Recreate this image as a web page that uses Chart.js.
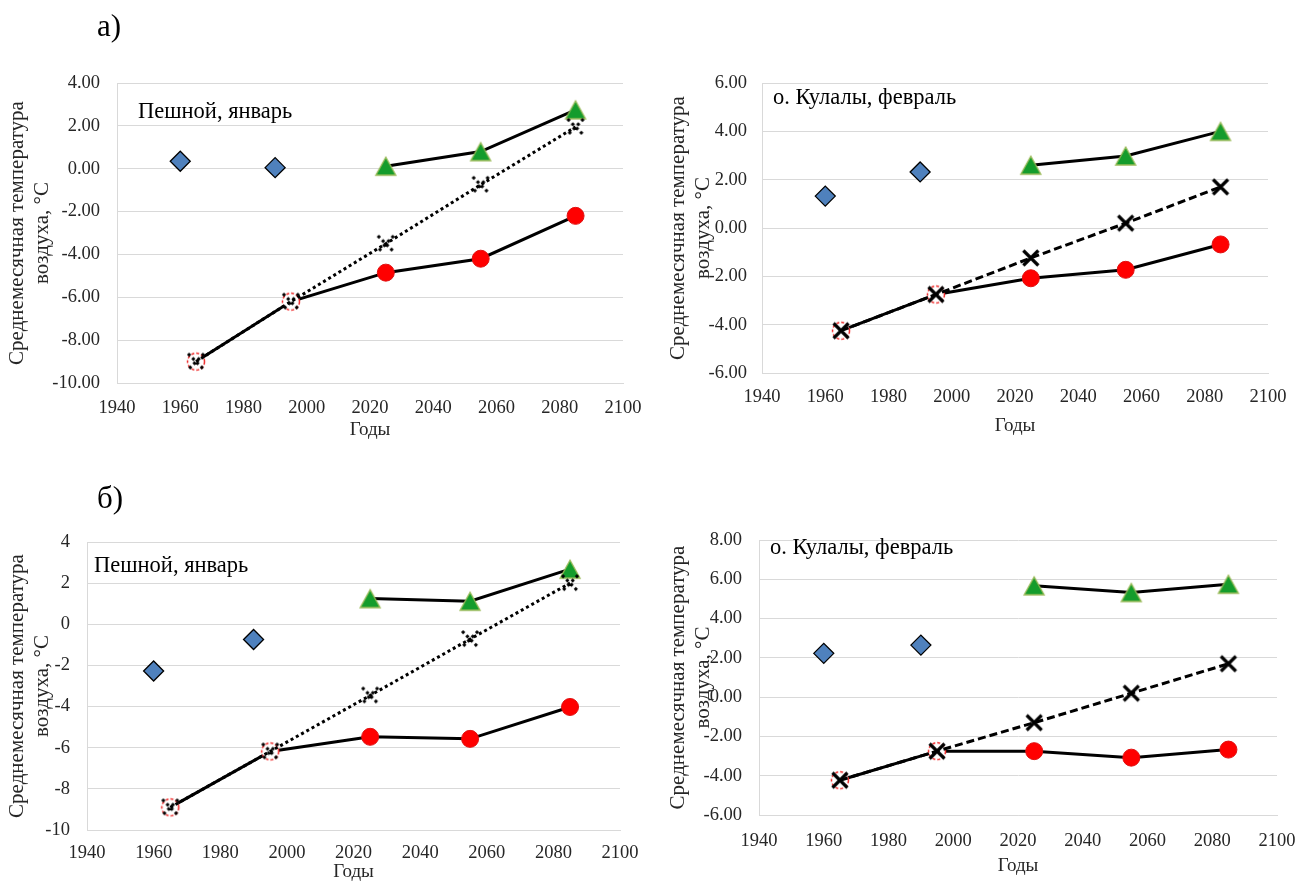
<!DOCTYPE html>
<html lang="ru">
<head>
<meta charset="utf-8">
<title>Среднемесячная температура воздуха</title>
<script src="https://cdn.jsdelivr.net/npm/chart.js@4"></script>
<style>
body{margin:0;background:#fff;font-family:"Liberation Serif","Times New Roman",serif;}
#page{position:relative;width:1315px;height:883px;overflow:hidden;background:#fff;}
#page canvas{position:absolute;left:0;top:0;}
.lbl{position:absolute;color:#000;white-space:nowrap;line-height:1;}
.part{font-size:31px;}
.place{font-size:22.5px;}
</style>
</head>
<body>
<div id="page">
  <canvas id="c1" width="1315" height="883"></canvas>
  <canvas id="c2" width="1315" height="883"></canvas>
  <canvas id="c3" width="1315" height="883"></canvas>
  <canvas id="c4" width="1315" height="883"></canvas>
  <div class="lbl part" style="left:97px;top:10px">а)</div>
  <div class="lbl part" style="left:97px;top:482px">б)</div>
  <div class="lbl place" style="left:138px;top:100px">Пешной, январь</div>
  <div class="lbl place" style="left:773px;top:86px">о. Кулалы, февраль</div>
  <div class="lbl place" style="left:94px;top:554px">Пешной, январь</div>
  <div class="lbl place" style="left:770px;top:536px">о. Кулалы, февраль</div>
</div>
<script>
// годы
const histYears = [1960, 1990];
const modelYears = [1965, 1995, 2025, 2055, 2085];
const scenYears = [2025, 2055, 2085];
const xTicks = [1940, 1960, 1980, 2000, 2020, 2040, 2060, 2080, 2100];

// а) Пешной, январь
const pesA_hist = [0.35, 0.05];
const pesA_model = [-9.0, -6.2, -4.85, -4.2, -2.2];
const pesA_warm = [0.12, 0.8, 2.75];
const pesA_trend = [-9.0, -6.2, -3.5, -0.75, 1.95];
const pesA_yTicks = [-10, -8, -6, -4, -2, 0, 2, 4];

// а) о. Кулалы, февраль
const kulA_hist = [1.32, 2.32];
const kulA_model = [-4.25, -2.75, -2.08, -1.73, -0.68];
const kulA_warm = [2.6, 2.98, 4.0];
const kulA_trend = [-4.25, -2.75, -1.24, 0.2, 1.7];
const kulA_yTicks = [-6, -4, -2, 0, 2, 4, 6];

// б) Пешной, январь
const pesB_hist = [-2.27, -0.74];
const pesB_model = [-8.9, -6.18, -5.47, -5.57, -4.02];
const pesB_warm = [1.25, 1.12, 2.68];
const pesB_trend = [-8.9, -6.18, -3.46, -0.72, 2.0];
const pesB_yTicks = [-10, -8, -6, -4, -2, 0, 2, 4];

// б) о. Кулалы, февраль
const kulB_hist = [2.23, 2.65];
const kulB_model = [-4.23, -2.75, -2.75, -3.08, -2.67];
const kulB_warm = [5.67, 5.33, 5.75];
const kulB_trend = [-4.23, -2.75, -1.3, 0.2, 1.7];
const kulB_yTicks = [-6, -4, -2, 0, 2, 4, 6, 8];

const FONT = '"Liberation Serif", "Times New Roman", serif';
const TXT = '#262626';

function zip(xs, ys) {
  return xs.map((x, i) => ({x: x, y: ys[i]}));
}

function mark(size, paint) {
  const c = document.createElement('canvas');
  c.width = size; c.height = size;
  paint(c.getContext('2d'), size / 2);
  return c;
}

// белый кружок с красным пунктиром
const obsMark = mark(22, (g, c) => {
  g.beginPath(); g.arc(c, c, 8.5, 0, Math.PI * 2);
  g.fillStyle = '#fff'; g.fill();
  g.setLineDash([3, 2]); g.strokeStyle = '#ee2a2a'; g.lineWidth = 1.5; g.stroke();
});

// зелёный треугольник
const triMark = mark(26, (g, c) => {
  g.beginPath();
  g.moveTo(c, c - 9); g.lineTo(c + 10, c + 9); g.lineTo(c - 10, c + 9);
  g.closePath();
  g.fillStyle = '#149c2c'; g.fill();
  g.strokeStyle = '#9bbb59'; g.lineWidth = 1.3; g.stroke();
});

// крестик из точек
const dotX = mark(22, (g, c) => {
  g.strokeStyle = '#000'; g.lineWidth = 3; g.setLineDash([3, 3]);
  g.beginPath();
  g.moveTo(c - 8, c - 8); g.lineTo(c + 8, c + 8);
  g.moveTo(c + 8, c - 8); g.lineTo(c - 8, c + 8);
  g.stroke();
});

// жирный крестик
const boldX = mark(22, (g, c) => {
  g.strokeStyle = '#000'; g.lineWidth = 3.2;
  g.beginPath();
  g.moveTo(c - 7.5, c - 7.5); g.lineTo(c + 7.5, c + 7.5);
  g.moveTo(c + 7.5, c - 7.5); g.lineTo(c - 7.5, c + 7.5);
  g.stroke();
});

function panel(id, d, box) {
  new Chart(document.getElementById(id), {
    type: 'line',
    data: {
      datasets: [
        { data: zip(modelYears, d.trend), borderColor: '#000', borderWidth: 3, borderDash: d.dash,
          pointStyle: d.xMark, pointRadius: 8 },
        { data: zip(modelYears, d.model), borderColor: '#000', borderWidth: 3,
          pointStyle: [obsMark, obsMark, 'circle', 'circle', 'circle'], pointRadius: 8.5,
          pointBackgroundColor: '#ff0000', pointBorderColor: '#e01010', pointBorderWidth: 1 },
        { data: zip(scenYears, d.warm), borderColor: '#000', borderWidth: 3,
          pointStyle: triMark, pointRadius: 9 },
        { data: zip(histYears, d.hist), showLine: false, pointStyle: 'rectRot', pointRadius: 10,
          pointBackgroundColor: '#4f81bd', pointBorderColor: '#000', pointBorderWidth: 1.3 }
      ]
    },
    options: {
      responsive: false,
      animation: false,
      events: [],
      layout: { padding: { left: box.pl, top: box.top, right: 1315 - box.right, bottom: 883 - box.xBottom } },
      plugins: { legend: { display: false }, tooltip: { enabled: false } },
      scales: {
        x: {
          type: 'linear', min: 1940, max: 2100,
          afterBuildTicks: s => { s.ticks = xTicks.map(v => ({value: v})); },
          afterFit: s => { s.height = box.xBottom - box.bottom; },
          grid: { drawOnChartArea: false, drawTicks: false },
          border: { color: '#d9d9d9', width: 1 },
          ticks: { padding: box.xPad, maxRotation: 0, autoSkip: false, color: TXT,
                   font: { family: FONT, size: 18.5 }, callback: v => String(v) },
          title: { display: true, text: 'Годы', color: TXT, padding: 0,
                   font: { family: FONT, size: 19, lineHeight: 1.2 } }
        },
        y: {
          min: d.yTicks[0], max: d.yTicks[d.yTicks.length - 1],
          afterBuildTicks: s => { s.ticks = d.yTicks.map(v => ({value: v})); },
          afterFit: s => { s.width = box.left - box.pl; },
          grid: { color: '#d9d9d9', lineWidth: 1, drawTicks: false },
          border: { color: '#d9d9d9', width: 1 },
          ticks: { padding: box.yPad, color: TXT, font: { family: FONT, size: 18.5 },
                   callback: v => v.toFixed(d.digits) },
          title: { display: true, text: ['Среднемесячная температура', 'воздуха, °С'], color: TXT,
                   padding: 0, font: { family: FONT, size: 21, lineHeight: 1.2 } }
        }
      }
    }
  });
}

panel('c1',
  { hist: pesA_hist, model: pesA_model, warm: pesA_warm, trend: pesA_trend, yTicks: pesA_yTicks,
    digits: 2, dash: [3, 3], xMark: dotX },
  { pl: 4.5, left: 117, right: 623, top: 83, bottom: 383, xBottom: 441, xPad: 14, yPad: 17 });

panel('c2',
  { hist: kulA_hist, model: kulA_model, warm: kulA_warm, trend: kulA_trend, yTicks: kulA_yTicks,
    digits: 2, dash: [8, 4], xMark: boldX },
  { pl: 665.5, left: 762, right: 1268, top: 83, bottom: 373, xBottom: 437, xPad: 13, yPad: 15 });

panel('c3',
  { hist: pesB_hist, model: pesB_model, warm: pesB_warm, trend: pesB_trend, yTicks: pesB_yTicks,
    digits: 0, dash: [3, 3], xMark: dotX },
  { pl: 4.5, left: 87, right: 620, top: 542, bottom: 830, xBottom: 883, xPad: 12, yPad: 17 });

panel('c4',
  { hist: kulB_hist, model: kulB_model, warm: kulB_warm, trend: kulB_trend, yTicks: kulB_yTicks,
    digits: 2, dash: [8, 4], xMark: boldX },
  { pl: 665.5, left: 759, right: 1277, top: 540, bottom: 815, xBottom: 877, xPad: 15, yPad: 17 });
</script>
</body>
</html>
